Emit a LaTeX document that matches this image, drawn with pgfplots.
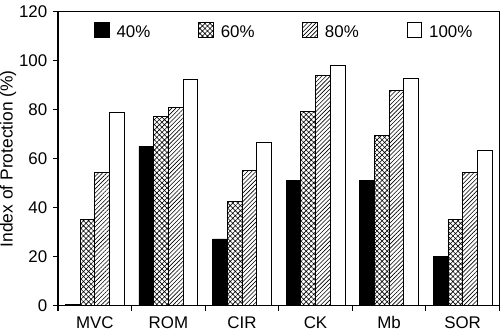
\documentclass[border=0pt]{standalone}
\usepackage{fontspec}
\setmainfont{Liberation Sans}
\usepackage{pgfplots}
\pgfplotsset{compat=1.18}
\usetikzlibrary{patterns.meta}
\pgfplotsset{
  sqlegend/.style={legend image code/.code={\draw[##1,line width=0.8pt] (0pt,-5pt) rectangle (15pt,10pt);}}
}
\newcommand{\gap}{\rule{46pt}{0pt}}
\begin{document}
\fontsize{17}{20}\selectfont
\begin{tikzpicture}
\begin{axis}[
  scale only axis, width=444pt, height=296pt,
  ybar=0pt, bar width=0.2,
  xmin=-0.5, xmax=5.5, ymin=0, ymax=120,
  xtick={-0.5,0.5,...,5.5},
  x tick label as interval,
  xticklabels={MVC,ROM,CIR,CK,Mb,SOR},
  ytick={0,20,...,120},
  xtick pos=bottom, ytick pos=left,
  tick align=outside, major tick length=5pt,
  axis line style={line width=1.2pt},
  every tick/.style={line width=1.2pt, black},
  tick label style={font=\fontsize{17}{20}\selectfont},
  /pgf/number format/assume math mode=true,
  ylabel={Index of Protection (\%)},
  ylabel style={font=\fontsize{17.5}{20}\selectfont, inner sep=0pt, yshift=-3pt},
  legend columns=4,
  sqlegend,
  legend style={draw=none, fill=none, at={(0.074,0.972)}, anchor=north west,
    font=\fontsize{17}{20}\selectfont,
    /tikz/every odd column/.append style={column sep=5pt}},
]
\addplot[draw=black, fill=black, line width=0.8pt] coordinates {(0,0.6) (1,65) (2,27.3) (3,51.3) (4,51.3) (5,20)};
\addplot[draw=black, line width=0.8pt, pattern={Hatch[angle=45,distance=3.6pt,line width=0.6pt]}] coordinates {(0,35.4) (1,77.3) (2,42.5) (3,79.4) (4,69.4) (5,35.4)};
\addplot[draw=black, line width=0.8pt, pattern={Lines[angle=45,distance=3pt,line width=0.6pt]}] coordinates {(0,54.4) (1,81) (2,55.2) (3,93.9) (4,87.8) (5,54.4)};
\addplot[draw=black, fill=white, line width=0.8pt] coordinates {(0,79) (1,92.4) (2,66.7) (3,98.1) (4,92.9) (5,63.6)};
\legend{40\%\gap,60\%\gap,80\%\gap,100\%}
\end{axis}
\end{tikzpicture}
\end{document}
